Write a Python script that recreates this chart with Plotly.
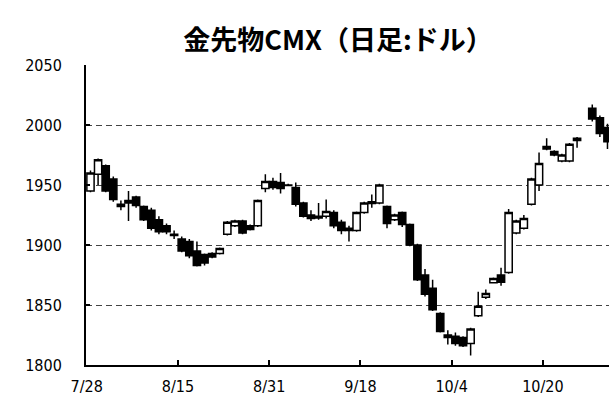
import plotly.graph_objects as go

dates = ["7/28","7/31","8/1","8/2","8/3","8/4","8/7","8/8","8/9","8/10","8/11","8/14","8/15",
         "8/16","8/17","8/18","8/21","8/22","8/23","8/24","8/25","8/28","8/29","8/30","8/31",
         "9/1","9/4","9/5","9/6","9/7","9/8","9/11","9/12","9/13","9/14","9/15","9/18",
         "9/19","9/20","9/21","9/22","9/25","9/26","9/27","9/28","9/29","10/2","10/3","10/4",
         "10/5","10/6","10/9","10/10","10/11","10/12","10/13","10/16","10/17","10/18","10/19","10/20",
         "10/23","10/24","10/25","10/26","10/27","10/30","10/31","11/1"]
opens  = [1945,1959,1966,1955,1934,1935,1940,1932,1929,1921,1916,1909,1905,
          1903,1895,1892,1893,1893,1909,1916,1920,1916,1916,1947,1953,
          1952,1950,1948,1935,1925,1924,1924,1927,1919,1914,1912,1927,
          1936,1935,1932,1921,1927,1917,1900,1875,1864,1843,1825,1824,
          1823,1818,1841,1856.5,1868.5,1875,1877,1910,1914,1934,1950,1982,
          1978,1970,1970,1989,None,2014,2006,1998]
highs  = [1962,1972,1967,1957,1937,1945,1941,1933,1931,1924,1918,1912,1907,
          1905,1903,1893,1894,1898,1920,1921,1921,1917,1938,1959,1956,
          1960,1951,1952,1936,1929,1935,1938,1929,1921,1916,1928,1936,
          1942,1951,1933,1926,1928,1918,1901,1880,1871,1844,1829,1827,
          1824,1831,1861,1863,1873,1881,1930,1921,1925,1956,1977,1989,
          1979,1976,1985,1990,None,2017,2008,2001]
lows   = [1944,1950,1944,1936,1929,1920,1931,1920,1912,1909,1909,1905,1894,
          1889,1882,1883,1889,1892,1908,1915,1909,1912,1915,1944,1946,
          1943,1949,1932,1923,1920,1921,1922,1914,1909,1903,1911,1926,
          1931,1934,1914,1920,1915,1899,1870,1857,1845,1827,1817,1816,
          1815,1808,1840,1855,1868,1866,1876,1909,1913,1933,1945,1979,
          1974,1969,1969,1981,None,2003,1990,1980]
closes = [1960,1971,1945,1938,1932,1937,1933,1921,1914,1911,1911,1908,1895,
          1891,1883,1885,1890,1897,1919,1920,1910,1913,1937,1953,1948,
          1947,1949.5,1934,1924,1922,1922.5,1928,1916,1912,1912,1927,1935,
          1934.5,1950,1918,1925,1917,1900,1871,1859,1846,1828,1823,1818,
          1816,1830,1849,1859.5,1872,1869,1927,1920,1922,1955,1968,1980,
          1975,1975,1984,1987,None,2005,1993,1986]

tick_labels = ["7/28","8/15","8/31","9/18","10/4","10/20"]
y_ticks = [1800,1850,1900,1950,2000,2050]

idx = list(range(len(dates)))
tick_idx = [dates.index(t) - 0.5 for t in tick_labels]

fig = go.Figure(go.Candlestick(
    x=idx, open=opens, high=highs, low=lows, close=closes,
    increasing=dict(line=dict(color="black", width=1.5), fillcolor="white"),
    decreasing=dict(line=dict(color="black", width=1.5), fillcolor="black"),
    whiskerwidth=0, hoverinfo="skip", showlegend=False,
))

tick_font = dict(family="Liberation Sans Narrow, Arial Narrow, DejaVu Sans Condensed, sans-serif",
                 size=16, color="black")

fig.update_layout(
    width=609, height=401,
    margin=dict(l=86, r=0, t=65, b=36),
    paper_bgcolor="white", plot_bgcolor="white",
    boxgap=0.05, boxgroupgap=0,
    title=dict(text="<b>金先物CMX（日足:ドル）</b>",
               font=dict(family="Noto Sans CJK JP", size=27, color="black"),
               x=0.555, xref="container", xanchor="center",
               y=0.90, yref="container", yanchor="middle"),
    xaxis=dict(range=[-0.59, 68.2], rangeslider=dict(visible=False),
               tickmode="array", tickvals=tick_idx, ticktext=tick_labels,
               ticks="inside", ticklen=5, tickwidth=1.5, tickcolor="black",
               showline=True, linecolor="black", linewidth=2,
               showgrid=False, zeroline=False, tickfont=tick_font,
               ticklabelstandoff=6),
    yaxis=dict(range=[1800, 2050], tickmode="array", tickvals=y_ticks,
               ticks="inside", ticklen=4, tickwidth=1.5, tickcolor="black",
               showline=True, linecolor="black", linewidth=2,
               showgrid=True, gridcolor="#444444", gridwidth=1.2, griddash="6px,4px",
               zeroline=False, tickfont=tick_font, ticklabelstandoff=19),
)

fig.write_html("out.html", post_script="document.body.style.margin='0px';",
               config={"displayModeBar": False})
